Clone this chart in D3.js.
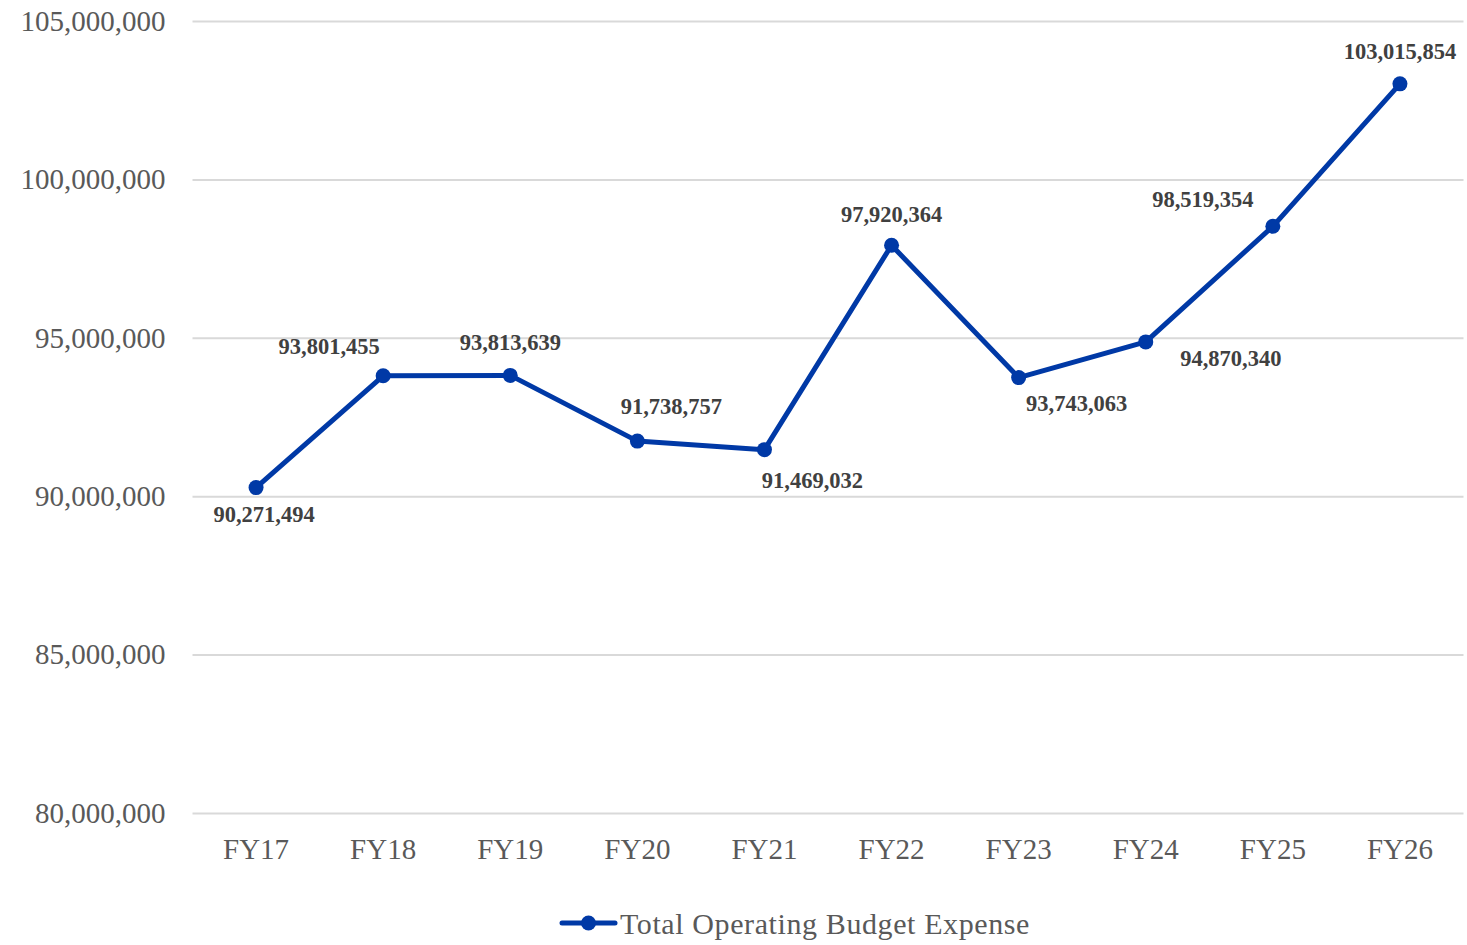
<!DOCTYPE html>
<html><head><meta charset="utf-8">
<script src="https://cdn.jsdelivr.net/npm/d3@7"></script>
<style>
html,body{margin:0;padding:0;background:#fff;}
svg{display:block;}
</style></head>
<body>
<svg id="chart" width="1467" height="945"></svg>
<script>
const categories = ["FY17","FY18","FY19","FY20","FY21","FY22","FY23","FY24","FY25","FY26"];
const values = [90271494, 93801455, 93813639, 91738757, 91469032, 97920364, 93743063, 94870340, 98519354, 103015854];
const yTicks = [80000000, 85000000, 90000000, 95000000, 100000000, 105000000];
const seriesName = "Total Operating Budget Expense";
// label placement per point: [dx, dy]
const labelOffsets = [[8,27],[-54,-29],[0,-33],[34,-35],[48,31],[0,-31],[58,26],[85,17],[-70,-27],[0,-32]];

const svg = d3.select("#chart");
const mLeft = 192.5, mRight = 1463.5, mTop = 21, mBottom = 813;
const serif = "'Liberation Serif','Times New Roman',serif";
const color = "#0039A6";

const x = d3.scaleBand().domain(categories).range([mLeft, mRight]);
const y = d3.scaleLinear().domain([80000000, 105000000]).range([mBottom, mTop]);
const fmt = d3.format(",");

const gy = svg.append("g").attr("transform", `translate(${mLeft},0)`)
  .call(d3.axisLeft(y).tickValues(yTicks).tickSize(-(mRight-mLeft)).tickFormat(fmt).tickPadding(27));
gy.select(".domain").remove();
gy.selectAll(".tick line").attr("stroke", "#d9d9d9").attr("stroke-width", 2);
gy.selectAll(".tick text").attr("fill", "#595959").style("font-family", serif).style("font-size", "29px");

const gx = svg.append("g").attr("transform", `translate(0,${mBottom})`)
  .call(d3.axisBottom(x).tickSize(0).tickPadding(25));
gx.select(".domain").remove();
gx.selectAll(".tick text").attr("fill", "#595959").style("font-family", serif).style("font-size", "29px");

const cx = (d,i) => x(categories[i]) + x.bandwidth()/2;

svg.append("path").datum(values)
  .attr("fill","none").attr("stroke",color).attr("stroke-width",5).attr("stroke-linejoin","round")
  .attr("d", d3.line().x((d,i)=>cx(d,i)).y(d=>y(d)));

svg.selectAll("circle.pt").data(values).enter().append("circle")
  .attr("class","pt").attr("cx",(d,i)=>cx(d,i)).attr("cy",d=>y(d)).attr("r",7.5).attr("fill",color);

svg.selectAll("text.lbl").data(values).enter().append("text")
  .attr("class","lbl")
  .attr("x",(d,i)=>cx(d,i)+labelOffsets[i][0])
  .attr("y",(d,i)=>y(d)+labelOffsets[i][1])
  .attr("text-anchor","middle").attr("dominant-baseline","central")
  .attr("fill","#404040").style("font-family",serif).style("font-size","22.5px").style("font-weight","bold")
  .text(d=>fmt(d));

const lg = svg.append("g");
lg.append("line").attr("x1",562).attr("x2",615).attr("y1",923).attr("y2",923).attr("stroke",color).attr("stroke-width",5).attr("stroke-linecap","round");
lg.append("circle").attr("cx",588.5).attr("cy",923).attr("r",7.5).attr("fill",color);
lg.append("text").attr("x",620).attr("y",923).attr("dominant-baseline","central")
  .attr("fill","#595959").style("font-family",serif).style("font-size","30px").style("letter-spacing","0.6px").text(seriesName);
</script>
</body></html>
